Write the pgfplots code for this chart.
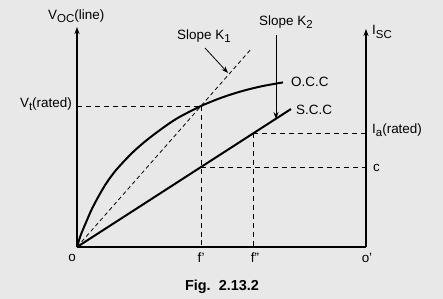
\documentclass[border=0pt]{standalone}
\usepackage{pgfplots}
\pgfplotsset{compat=1.18}
\usepackage{fontspec}
\setmainfont{Liberation Sans}
\usetikzlibrary{arrows.meta}
\definecolor{bg}{RGB}{232,232,232}
\newcommand{\sub}[1]{\raisebox{-0.45ex}{\fontsize{11.5}{12}\selectfont #1}}
\tikzset{lbl/.style={font=\fontsize{13.5}{16}\selectfont, inner sep=0pt}}
\begin{document}
\begin{tikzpicture}
\begin{axis}[
  scale only axis, width=443bp, height=299bp,
  xmin=0, xmax=443, ymin=0, ymax=299, y dir=reverse,
  axis line style={draw=none}, ticks=none,
  axis background/.style={fill=bg},
  clip=false,
]
% axes
\addplot[black, line width=1.3pt, -{Stealth[length=7pt,width=5pt]}] coordinates {(77,247) (77,27)};
\addplot[black, line width=1.3pt] coordinates {(77,247) (366,247)};
\addplot[black, line width=1.3pt, -{Stealth[length=7pt,width=5pt]}] coordinates {(366,247) (366,29)};
% dashed guide lines
\addplot[black, line width=1pt, dash pattern=on 5pt off 4pt] coordinates {(77,106) (201,106)};
\addplot[black, line width=1pt, dash pattern=on 5pt off 4pt] coordinates {(201,106) (201,247)};
\addplot[black, line width=1pt, dash pattern=on 5pt off 4pt] coordinates {(253,133) (253,247)};
\addplot[black, line width=1pt, dash pattern=on 5pt off 4pt] coordinates {(253,133) (366,133)};
\addplot[black, line width=1pt, dash pattern=on 5pt off 4pt] coordinates {(201,167) (366,167)};
% slope K1 line
\addplot[black, line width=0.8pt, dash pattern=on 4pt off 3pt] coordinates {(77,247) (252,48)};
% OCC
\addplot[black, line width=2pt, smooth] coordinates {
(77,247) (80,237.1) (83,229.5) (87,220.1) (92,208.7) (100,193.7) (107,182.2)
(115,171.3) (125,160.2) (135,150.2) (147,139.9) (161,129.3) (177,118.4)
(201,106) (222,97.5) (242,91.1) (262,86.2) (283,82.4)};
% SCC
\addplot[black, line width=2pt] coordinates {(77,247) (291,109)};
% arrows
\addplot[black, line width=0.8pt, -{Stealth[length=7pt,width=5pt]}] coordinates {(205,48) (228,73)};
\addplot[black, line width=0.8pt, -{Stealth[length=7pt,width=5pt]}] coordinates {(276,35) (276,119)};
% labels
\node[lbl, anchor=west] at (axis cs:48,16) {V\sub{OC}(line)};
\node[lbl, anchor=west] at (axis cs:372,32) {I\sub{SC}};
\node[lbl, anchor=east] at (axis cs:72,104) {V\sub{t}(rated)};
\node[lbl, anchor=west] at (axis cs:372,130) {I\sub{a}(rated)};
\node[lbl, anchor=west] at (axis cs:373,168) {c};
\node[lbl, anchor=west] at (axis cs:177,36) {Slope K\sub{1}};
\node[lbl, anchor=west] at (axis cs:259,22) {Slope K\sub{2}};
\node[lbl, anchor=west] at (axis cs:291,82) {O.C.C};
\node[lbl, anchor=west] at (axis cs:296,110) {S.C.C};
\node[lbl] at (axis cs:72,258) {o};
\node[lbl] at (axis cs:201,258) {f'};
\node[lbl] at (axis cs:255,258) {f''};
\node[lbl] at (axis cs:367,258) {o'};
\node[lbl, font=\fontsize{14.5}{16}\selectfont\bfseries] at (axis cs:222,287) {Fig.\ \ 2.13.2};
\end{axis}
\end{tikzpicture}
\end{document}
